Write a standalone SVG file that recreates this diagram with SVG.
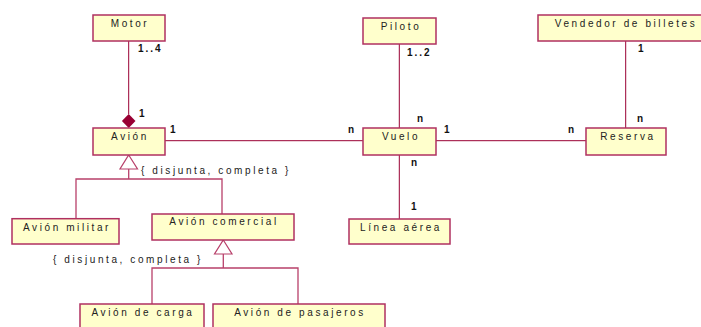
<svg xmlns="http://www.w3.org/2000/svg" width="701" height="327" viewBox="0 0 701 327">
<style>
.box{fill:#FFFFCC;stroke:#B03060;stroke-width:1.5}
.t{font-family:"Liberation Sans",Arial,sans-serif;font-size:10px;letter-spacing:2.6px;fill:#222;text-anchor:middle}
.m{font-family:"Liberation Sans",Arial,sans-serif;font-size:10px;font-weight:bold;letter-spacing:2px;fill:#111}
.c{font-family:"Liberation Sans",Arial,sans-serif;font-size:10px;letter-spacing:2.6px;fill:#222}
.a{stroke:#990033;stroke-width:1;fill:none}
.g{stroke:#B8406A;stroke-width:1.3;fill:none}
.tri{fill:#fff;stroke:#B8406A;stroke-width:1.2}
</style>
<rect width="701" height="327" fill="#fff"/>
<g id="connectors">
<line class="a" x1="128.7" y1="41" x2="128.7" y2="114"/>
<polygon points="128.7,114 135.5,121 128.7,128 121.9,121" fill="#990033"/>
<line class="a" x1="165" y1="140.7" x2="363" y2="140.7"/>
<line class="a" x1="436" y1="140.7" x2="586" y2="140.7"/>
<line class="a" x1="399.3" y1="44" x2="399.3" y2="128"/>
<line class="a" x1="399.3" y1="155" x2="399.3" y2="219"/>
<line class="a" x1="625.7" y1="41" x2="625.7" y2="128"/>
<polyline class="g" points="76,218.7 76,179 222,179 222,214"/>
<line class="g" x1="128.7" y1="169" x2="128.7" y2="179"/>
<polygon class="tri" points="128.7,155 137.5,169 120,169"/>
<polyline class="g" points="152,304 152,268 298,268 298,304"/>
<line class="g" x1="223.3" y1="254" x2="223.3" y2="268"/>
<polygon class="tri" points="223.3,240 232,254 214.5,254"/>
<text class="m" x="138" y="52">1..4</text>
<text class="m" x="139" y="117">1</text>
<text class="m" x="170" y="133">1</text>
<text class="m" x="348" y="133">n</text>
<text class="m" x="407" y="56">1..2</text>
<text class="m" x="417" y="122">n</text>
<text class="m" x="444" y="133">1</text>
<text class="m" x="568" y="133">n</text>
<text class="m" x="638" y="52">1</text>
<text class="m" x="637" y="122">n</text>
<text class="m" x="411" y="166">n</text>
<text class="m" x="411" y="210">1</text>
<text class="c" x="141" y="174">{ disjunta, completa }</text>
<text class="c" x="53" y="263">{ disjunta, completa }</text>
</g>
<g id="motor"><rect class="box" x="93" y="15" width="72" height="26"/><text class="t" x="130" y="27">Motor</text></g>
<g id="avion"><rect class="box" x="93" y="128" width="72" height="27"/><text class="t" x="130" y="140">Avión</text></g>
<g id="piloto"><rect class="box" x="363" y="18" width="73" height="26"/><text class="t" x="401" y="30">Piloto</text></g>
<g id="vendedor"><rect class="box" x="538" y="15" width="170" height="26"/><text class="t" x="626" y="27">Vendedor de billetes</text></g>
<g id="vuelo"><rect class="box" x="363" y="128" width="73" height="27"/><text class="t" x="401" y="140">Vuelo</text></g>
<g id="reserva"><rect class="box" x="586" y="128" width="80" height="27"/><text class="t" x="628" y="140">Reserva</text></g>
<g id="linea"><rect class="box" x="349" y="219" width="101" height="25"/><text class="t" x="401" y="231">Línea aérea</text></g>
<g id="militar"><rect class="box" x="12" y="218.7" width="107" height="25.3"/><text class="t" x="67" y="231">Avión militar</text></g>
<g id="comercial"><rect class="box" x="152" y="214" width="142" height="26"/><text class="t" x="224" y="225">Avión comercial</text></g>
<g id="carga"><rect class="box" x="80" y="304" width="124" height="30"/><text class="t" x="143" y="316">Avión de carga</text></g>
<g id="pasajeros"><rect class="box" x="213" y="304" width="172" height="30"/><text class="t" x="300" y="316">Avión de pasajeros</text></g>
</svg>
